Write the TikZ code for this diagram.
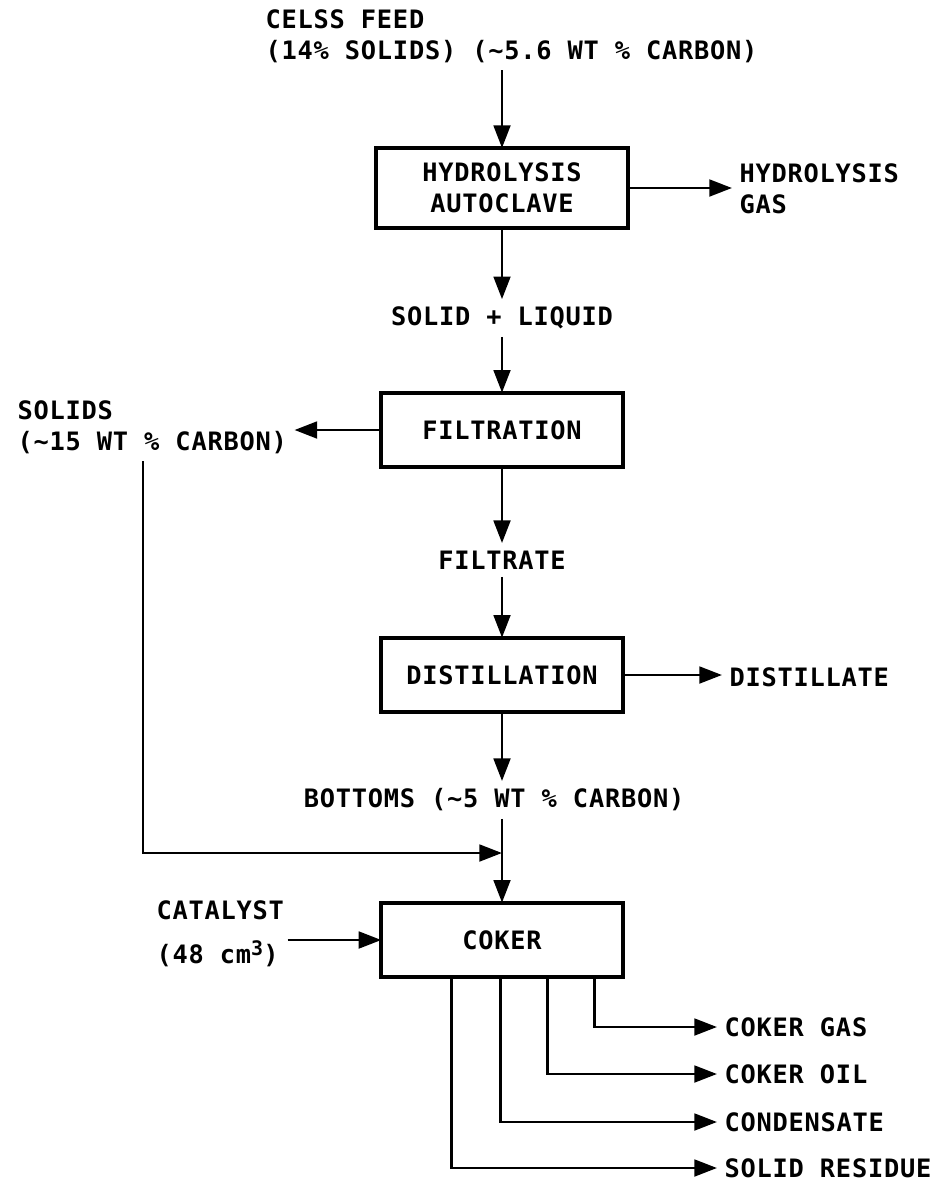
\documentclass[tikz,border=0pt]{standalone}
\usepackage{fontspec}
\usetikzlibrary{arrows.meta}
\newfontfamily\lettering[LetterSpace=3]{DejaVu Sans Mono}

\begin{document}
\begin{tikzpicture}[x=0.75pt,y=0.75pt,yscale=-1,xscale=1,
  lbl/.style={font=\lettering\bfseries\fontsize{19}{23}\selectfont, inner sep=0.75pt, outer sep=5pt},
  unitbox/.style={lbl, draw, line width=2.8pt, outer sep=0pt, minimum width=181pt, minimum height=56pt, align=center},
  flow/.style={line width=2.2pt, -{Triangle[length=17pt,width=12.5pt]}}]
\useasboundingbox (0,0) rectangle (932,1185);

% process units
\node[unitbox, minimum width=189pt, minimum height=60pt] (hydro) at (502,188) {HYDROLYSIS\\AUTOCLAVE};
\node[unitbox] (filtration) at (502,430) {FILTRATION};
\node[unitbox] (distillation) at (502,675) {DISTILLATION};
\node[unitbox] (coker) at (502,940) {COKER};

% stream labels
\node[lbl, anchor=west, align=left] (feed) at (258,36) {CELSS FEED\\(14\% SOLIDS) (\textasciitilde5.6 WT \% CARBON)};
\node[lbl, anchor=west, align=left] (hydrogas) at (732,189) {HYDROLYSIS\\GAS};
\node[lbl] (slurry) at (502,318) {SOLID + LIQUID};
\node[lbl, anchor=west, align=left] (solids) at (10,427) {SOLIDS\\(\textasciitilde15 WT \% CARBON)};
\node[lbl] (filtrate) at (502,560) {FILTRATE};
\node[lbl, anchor=west] (distillate) at (722,677) {DISTILLATE};
\node[lbl, anchor=east] (bottoms) at (692,800) {BOTTOMS (\textasciitilde5 WT \% CARBON)};
\node[lbl, anchor=west, align=left, outer sep=2pt] (catalyst) at (153,934) {CATALYST\\[10pt](48 cm\raisebox{6pt}{\fontsize{15}{15}\selectfont 3})};
\node[lbl, anchor=west] (cokergas) at (717,1027) {COKER GAS};
\node[lbl, anchor=west] (cokeroil) at (717,1074) {COKER OIL};
\node[lbl, anchor=west] (condensate) at (717,1122) {CONDENSATE};
\node[lbl, anchor=west] (residue) at (717,1168) {SOLID RESIDUE};
\coordinate (solidsturn) at (143,853);

% main line
\draw[flow] (feed.south -| hydro.north) -- (hydro.north);
\draw[flow] (hydro) -- (slurry);
\draw[flow] (slurry) -- (filtration);
\draw[flow] (filtration) -- (filtrate);
\draw[flow] (filtrate) -- (distillation);
\draw[flow] (distillation.south) -- (distillation.south |- bottoms.north);
\draw[flow] (bottoms.south -| coker.north) -- (coker.north);

% side streams
\draw[flow] (hydro.east) -- (hydro.east -| hydrogas.west);
\draw[flow] (filtration.west) -- (filtration.west -| solids.east);
\draw[flow] (distillation.east) -- (distillation.east -| distillate.west);
\draw[flow] (solids.south -| solidsturn) -- (solidsturn) -- (solidsturn -| coker.north);
\draw[flow] (catalyst.east |- coker.west) -- (coker.west);

% coker products
\foreach \dx/\out in {213/cokergas, 166/cokeroil, 119/condensate, 70/residue}
  \draw[flow] ([xshift=\dx*0.75pt]coker.south west) |- (\out.west);

\end{tikzpicture}
\end{document}
